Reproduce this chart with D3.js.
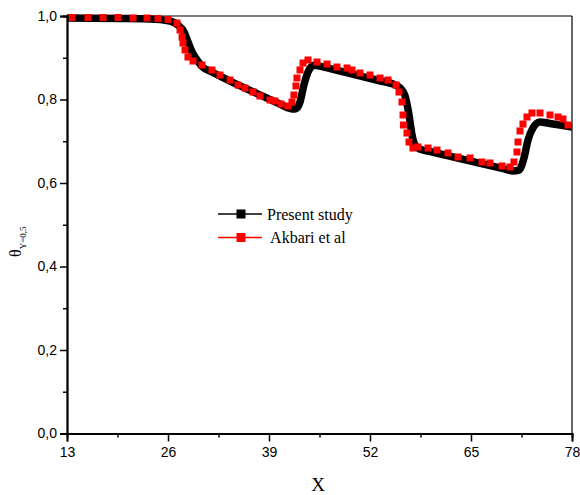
<!DOCTYPE html>
<html><head><meta charset="utf-8">
<script src="https://cdn.jsdelivr.net/npm/d3@7"></script>
<style>body{margin:0;background:#fff}svg{display:block}</style>
</head><body>
<svg id="chart" width="580" height="495"></svg>
<script>
// Present study (black)
const presentX = [13, 23.68, 26.26, 27.29, 28.06, 28.57, 29.09, 29.73, 30.38, 31.66, 40.5, 41.44, 42.1, 42.47, 42.99, 43.50, 44.02, 44.79, 45.56, 47.0, 53.5, 54.96, 55.86, 56.50, 57.02, 57.41, 57.79, 58.44, 60.0, 69.0, 70.40, 71.18, 71.82, 72.34, 72.98, 73.88, 75.0, 78.0];
const presentY = [0.995, 0.993, 0.988, 0.978, 0.962, 0.938, 0.914, 0.895, 0.879, 0.866, 0.7883, 0.7800, 0.777, 0.778, 0.794, 0.835, 0.866, 0.882, 0.880, 0.8734, 0.8437, 0.837, 0.828, 0.809, 0.763, 0.715, 0.691, 0.681, 0.6742, 0.6351, 0.629, 0.631, 0.660, 0.703, 0.732, 0.746, 0.743, 0.734];
// Akbari et al (red squares)
const akbariX = [13.64, 15.70, 17.63, 19.56, 21.49, 23.30, 24.71, 26.00, 27.16, 27.55, 27.81, 27.93, 28.19, 28.57, 29.22, 30.38, 31.66, 32.69, 33.98, 35.01, 35.91, 36.94, 37.84, 39.13, 39.77, 40.54, 41.44, 41.96, 42.21, 42.47, 42.60, 42.99, 43.38, 44.02, 45.18, 46.47, 47.75, 49.04, 49.68, 50.71, 52.00, 53.29, 54.32, 55.35, 55.73, 56.12, 56.25, 56.30, 56.76, 57.02, 57.53, 58.18, 59.47, 60.62, 62.04, 63.33, 64.87, 66.41, 67.44, 68.99, 70.02, 70.53, 70.92, 71.05, 71.31, 71.69, 72.21, 72.85, 73.88, 75.17, 76.20, 76.84, 77.49];
const akbariY = [0.9964, 0.9964, 0.9964, 0.9964, 0.9952, 0.9952, 0.9940, 0.9916, 0.9832, 0.9665, 0.9497, 0.9353, 0.9186, 0.9018, 0.8922, 0.8826, 0.8707, 0.8587, 0.8467, 0.8347, 0.8275, 0.8180, 0.8084, 0.7988, 0.7964, 0.7892, 0.7844, 0.7940, 0.8108, 0.8323, 0.8515, 0.8707, 0.8874, 0.8946, 0.8898, 0.8850, 0.8778, 0.8754, 0.8707, 0.8635, 0.8587, 0.8515, 0.8467, 0.8347, 0.8180, 0.7940, 0.7629, 0.7389, 0.7198, 0.6982, 0.6838, 0.6862, 0.6838, 0.6790, 0.6719, 0.6623, 0.6599, 0.6503, 0.6479, 0.6407, 0.6383, 0.6503, 0.6743, 0.6982, 0.7246, 0.7413, 0.7581, 0.7677, 0.7677, 0.7629, 0.7581, 0.7533, 0.7389];
const xTicks = [13, 26, 39, 52, 65, 78];
const xMinor = [19.5, 32.5, 45.5, 58.5, 71.5];
const yTicks = [0, 0.2, 0.4, 0.6, 0.8, 1.0];
const yMinor = [0.1, 0.3, 0.5, 0.7, 0.9];
const legendLabels = ["Present study", " Akbari et al"];

const svg = d3.select("#chart");
const L = 67, R = 572, T = 16, B = 433.5;
const x = d3.scaleLinear().domain([13, 78]).range([L, R]);
const y = d3.scaleLinear().domain([0, 1]).range([B, T]);
const fmt = v => d3.format(".1f")(v).replace(".", ",");

// frame top/right
svg.append("line").attr("x1", L).attr("x2", R).attr("y1", T).attr("y2", T).attr("stroke", "#000").attr("stroke-width", 1.2);
svg.append("line").attr("x1", R).attr("x2", R).attr("y1", T).attr("y2", B).attr("stroke", "#000").attr("stroke-width", 1.2);

svg.append("clipPath").attr("id", "clip").append("rect").attr("x", L).attr("y", T - 4).attr("width", R - L).attr("height", B - T + 4);

// Present study line (thick black)
const present = presentX.map((d, i) => [d, presentY[i]]);
svg.append("path").datum(present)
  .attr("clip-path", "url(#clip)")
  .attr("d", d3.line().x(d => x(d[0])).y(d => y(d[1])).curve(d3.curveMonotoneX))
  .attr("fill", "none").attr("stroke", "#000").attr("stroke-width", 7.5).attr("stroke-linejoin", "round");

// Akbari squares
const akbari = akbariX.map((d, i) => [d, akbariY[i]]);
const sq = 7;
svg.append("g").selectAll("rect").data(akbari).join("rect")
  .attr("x", d => x(d[0]) - sq / 2).attr("y", d => y(d[1]) - sq / 2)
  .attr("width", sq).attr("height", sq).attr("fill", "#ff0000");

// axes
svg.append("g").attr("transform", `translate(0,${B})`)
  .call(d3.axisBottom(x).tickValues(xTicks).tickSize(8).tickPadding(6).tickFormat(d3.format("d")));
svg.append("g").attr("transform", `translate(0,${B})`)
  .call(d3.axisBottom(x).tickValues(xMinor).tickSize(4).tickFormat(""));
svg.append("g").attr("transform", `translate(${L},0)`)
  .call(d3.axisLeft(y).tickValues(yTicks).tickSize(7).tickPadding(3).tickFormat(fmt));
svg.append("g").attr("transform", `translate(${L},0)`)
  .call(d3.axisLeft(y).tickValues(yMinor).tickSize(4).tickFormat(""));
svg.selectAll(".domain").attr("stroke-width", 1.8).attr("stroke", "#000");
svg.selectAll(".tick line").attr("stroke-width", 1.5).attr("stroke", "#000");
svg.selectAll(".tick text").attr("font-family", "Liberation Sans, Arial, sans-serif").attr("font-size", 14).attr("fill", "#000");

// axis titles
svg.append("text").attr("x", 318).attr("y", 491).attr("text-anchor", "middle")
  .attr("font-family", "Liberation Serif, Times New Roman, serif").attr("font-size", 19).text("X");
const yt = svg.append("text").attr("transform", "translate(21,257) rotate(-90)")
  .attr("font-family", "Liberation Serif, Times New Roman, serif").attr("font-size", 16);
yt.append("tspan").text("θ");
yt.append("tspan").attr("font-size", 9).attr("dy", 5).text("Y=0,5");

// legend
const legColors = ["#000", "#ff0000"];
const leg = svg.append("g");
legendLabels.forEach((lab, i) => {
  const cy = 214 + i * 23.5;
  leg.append("line").attr("x1", 218).attr("x2", 262).attr("y1", cy).attr("y2", cy).attr("stroke", legColors[i]).attr("stroke-width", 1.3);
  leg.append("rect").attr("x", 241 - 4.5).attr("y", cy - 4.5).attr("width", 9).attr("height", 9).attr("fill", legColors[i]);
  leg.append("text").attr("x", 267).attr("y", cy + 5.5).attr("font-family", "Liberation Serif, Times New Roman, serif")
    .attr("font-size", 16).attr("xml:space", "preserve").style("white-space", "pre").text(lab);
});
</script>
</body></html>
